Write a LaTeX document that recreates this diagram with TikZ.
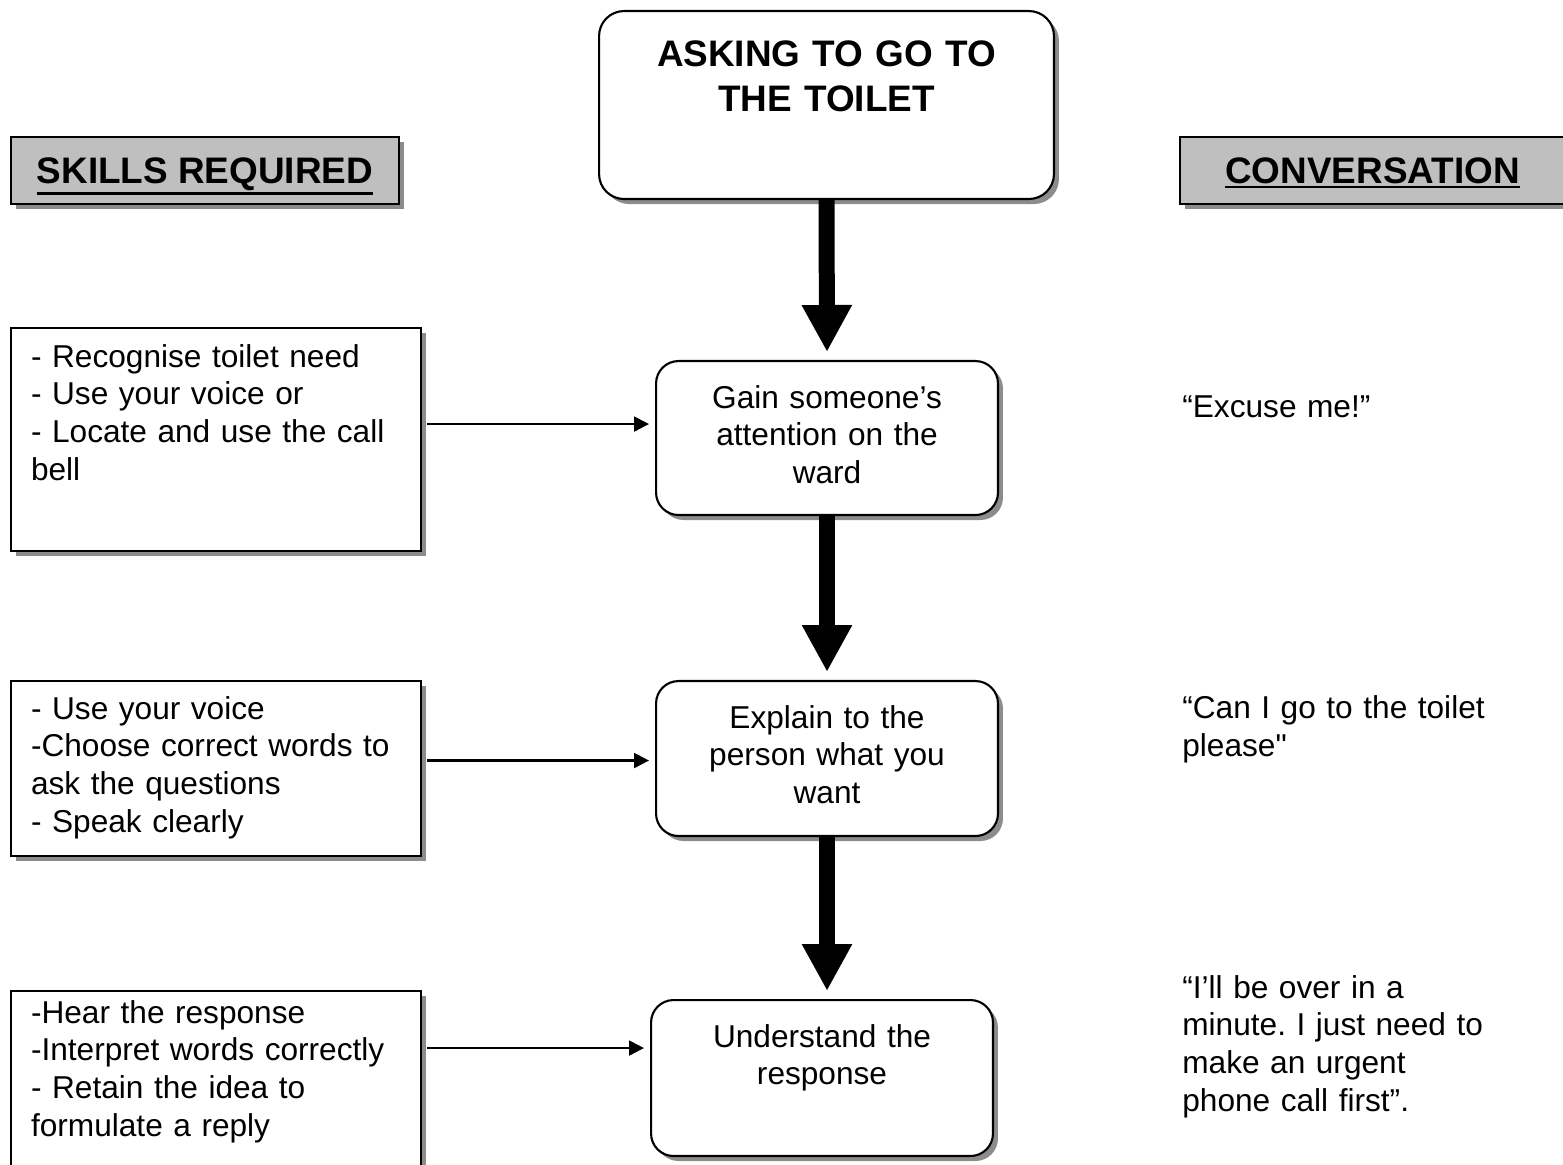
\documentclass[tikz,border=0pt]{standalone}
\usepackage{fontspec}
\setmainfont{Liberation Sans}
\usetikzlibrary{arrows.meta,shadows}

\newcommand{\headline}[1]{\vtop{\hbox{#1}\kern1.2pt\hrule height 1.6pt}}

\begin{document}
\begin{tikzpicture}[x=0.02cm,y=-0.02cm,
    every node/.style={font=\fontsize{18}{21.6}\selectfont\frenchspacing},
    shade/.style={drop shadow={shadow xshift=0.1cm,shadow yshift=-0.1cm,fill=black!45,opacity=1}},
    header/.style={draw,line width=1.2pt,fill=black!25,shade,anchor=north west,minimum height=1.34cm,inner sep=0pt,text height=0.5cm,text depth=0cm,font=\fontsize{21}{25}\selectfont\bfseries},
    title/.style={draw,line width=1.2pt,fill=white,shade,anchor=north west,rounded corners=0.5cm,inner sep=0pt,text width=9.1cm,align=center,font=\fontsize{21}{25.6}\selectfont\bfseries\frenchspacing},
    stepbox/.style={draw,line width=1.2pt,fill=white,shade,anchor=north west,rounded corners=0.45cm,inner sep=0pt,text width=6.84cm,align=center,text height=0.94cm},
    skillbox/.style={draw,line width=1.2pt,fill=white,shade,anchor=north west,inner xsep=0.4cm,inner ysep=0pt,text width=7.4cm,align=left},
    talk/.style={anchor=base west,inner sep=0pt,text width=7.6cm,align=left},
    flow/.style={line width=0.32cm,-{Triangle[width=0.94cm,length=0.94cm]},shorten >=0.16cm},
    feed/.style={line width=1.2pt,-{Triangle[width=0.3cm,length=0.3cm]},shorten <=0.1cm,shorten >=0.12cm}]

\useasboundingbox (0,0) rectangle (1563,1165);

% headers
\node[header,minimum width=7.76cm] (skills) at (10,136) {\headline{SKILLS REQUIRED}};
\node[header,minimum width=7.7cm] (conv) at (1179,136) {\headline{CONVERSATION}};
\node[title,text height=1.1cm,text depth=2.66cm] (title) at (598,10) {ASKING TO GO TO\\THE TOILET};

% steps
\node[stepbox,text depth=2.14cm] (gain) at (655,360) {Gain someone’s\\attention on the\\ward};
\node[stepbox,text depth=2.16cm] (explain) at (655,680) {Explain to the\\person what you\\want};
\node[stepbox,text depth=2.18cm] (understand) at (650,999) {Understand the\\response};

% skills
\node[skillbox,text height=0.78cm,text depth=3.68cm] (skill1) at (10,327) {- Recognise toilet need\\- Use your voice or\\- Locate and use the call\\bell};
\node[skillbox,text height=0.76cm,text depth=2.74cm] (skill2) at (10,680) {- Use your voice\\-Choose correct words to\\ask the questions\\- Speak clearly};
\node[skillbox,text height=0.64cm,text depth=3.6cm] (skill3) at (10,990) {-Hear the response\\-Interpret words correctly\\- Retain the idea to\\formulate a reply};

% conversation
\node[talk] (talk1) at (1182,418) {“Excuse me!”};
\node[talk] (talk2) at (1182,719) {“Can I go to the toilet\\please\textquotedbl};
\node[talk] (talk3) at (1182,998) {“I’ll be over in a\\minute. I just need to\\make an urgent\\phone call first”.};

\draw[flow] (title.south) -- (gain.north);
\draw[flow] (gain.south) -- (explain.north);
\draw[flow] (explain.south) -- (explain.south |- understand.north);

\coordinate (g1) at ([yshift=0.28cm]gain.west);
\coordinate (g2) at ([yshift=-0.04cm]explain.west);
\coordinate (g3) at ([yshift=0.6cm]understand.west);
\draw[feed] (g1 -| skill1.east) -- (g1);
\draw[feed] (g2 -| skill2.east) -- (g2);
\draw[feed] (g3 -| skill3.east) -- (g3);

\end{tikzpicture}
\end{document}
